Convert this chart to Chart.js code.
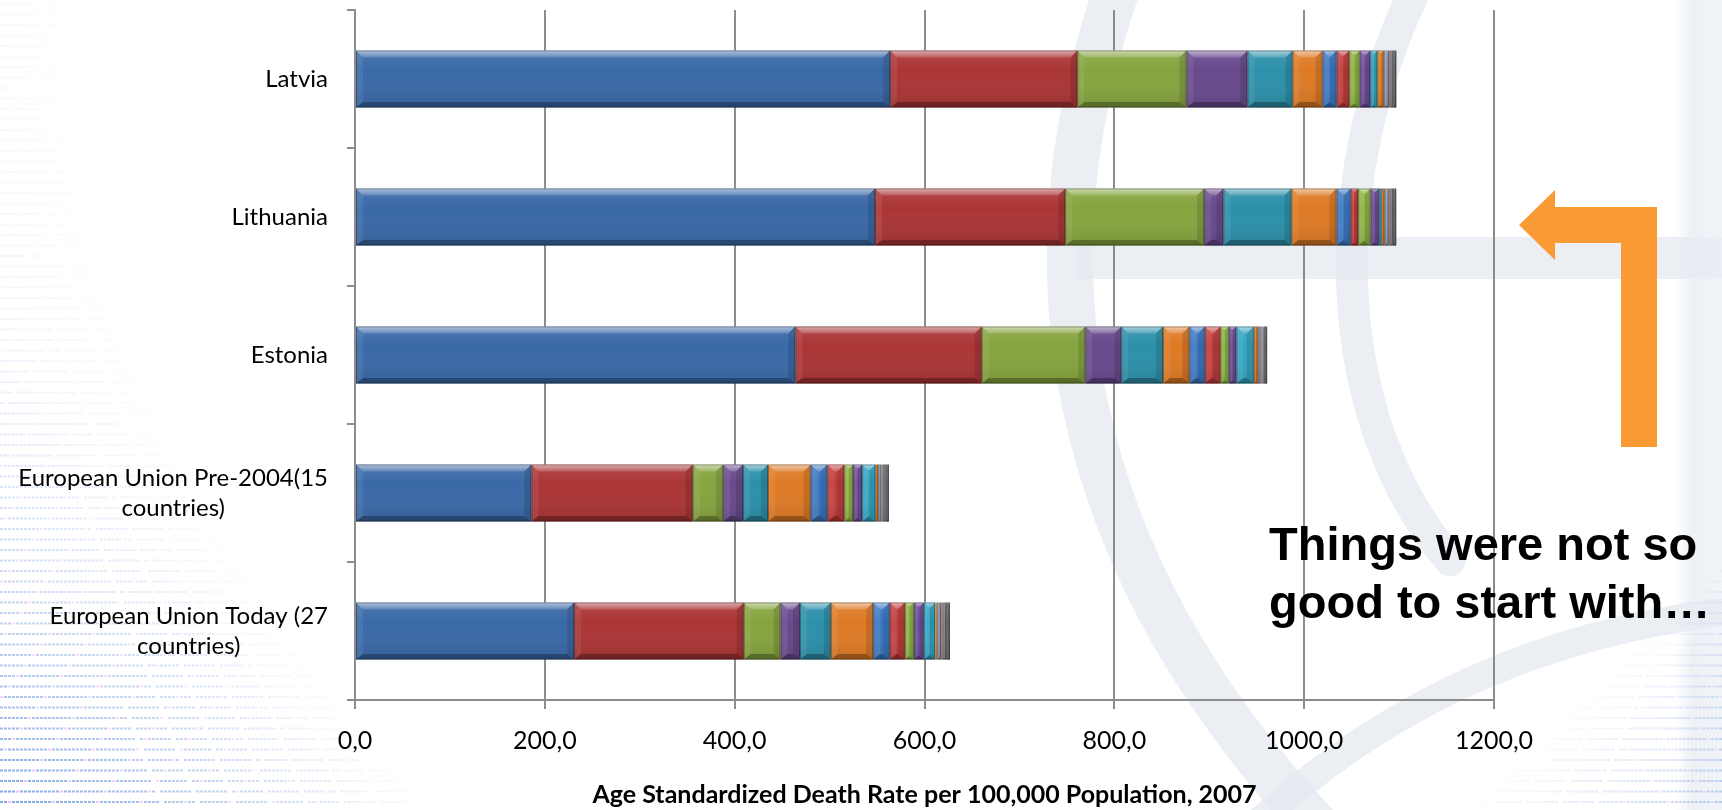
<!DOCTYPE html>
<html>
<head>
<meta charset="utf-8">
<title>Age Standardized Death Rate, 2007</title>
<script src="https://cdn.jsdelivr.net/npm/chart.js@4/dist/chart.umd.min.js"></script>
<style>
  html, body { margin: 0; padding: 0; background: #ffffff; }
  #wrap { width: 1722px; height: 810px; }
  canvas { display: block; }
</style>
</head>
<body>
<div id="wrap"><canvas id="chart" width="1722" height="810"></canvas></div>
<script>
// ---- data -------------------------------------------------------------
const categories = [
  ['Latvia'],
  ['Lithuania'],
  ['Estonia'],
  ['European Union Pre-2004(15', 'countries)'],
  ['European Union Today (27', 'countries)']
];
const xTickLabels = ['0,0', '200,0', '400,0', '600,0', '800,0', '1000,0', '1200,0'];
const axisTitle = 'Age Standardized Death Rate per 100,000 Population, 2007';
const noteLines = ['Things were not so', 'good to start with\u2026'];

// one array per cause of death, ordered Latvia, Lithuania, Estonia, EU-15, EU-27
const cause01 = [563.8, 547.8, 463.9, 185.8, 230.8];
const cause02 = [197.3, 200.5, 196.4, 170.0, 178.8];
const cause03 = [114.9, 146.3, 109.1, 32.1, 38.7];
const cause04 = [64.3, 20.3, 38.0, 20.9, 20.5];
const cause05 = [47.5, 71.7, 43.9, 26.3, 32.5];
const cause06 = [31.6, 47.5, 27.8, 45.0, 44.6];
const cause07 = [14.8, 14.8, 16.2, 17.5, 17.5];
const cause08 = [13.4, 8.0, 16.5, 17.9, 15.9];
const cause09 = [10.8, 13.0, 8.8, 9.2, 9.5];
const cause10 = [11.3, 8.8, 8.0, 9.6, 10.5];
const cause11 = [7.4, 2.8, 18.3, 14.1, 12.0];
const cause12 = [6.7, 3.2, 4.2, 2.9, 2.1];
const cause13 = [5.6, 4.5, 3.0, 3.2, 4.0];
const cause14 = [1.5, 1.5, 1.2, 1.4, 1.6];
const cause15 = [3.0, 3.0, 2.5, 3.0, 3.8];
const cause16 = [3.2, 3.3, 3.2, 3.6, 4.0];

const causeSeries = [cause01, cause02, cause03, cause04, cause05, cause06, cause07, cause08,
                     cause09, cause10, cause11, cause12, cause13, cause14, cause15, cause16];
const causeColors = ['#3A69A8', '#AB3535', '#86A43F', '#68498D', '#2C90AA', '#DE7A25',
                     '#3B78C3', '#C13B3B', '#8DB443', '#6C4C96', '#32A5C3', '#E57D20',
                     '#8C9FBE', '#A56E6A', '#8B8D90', '#656B71'];

// ---- slide backdrop ---------------------------------------------------
function drawDots(ctx, fromRight, extentFn, alphaFn) {
  for (let row = 0; row < 78; row++) {
    const y = 3 + row * 10.5;
    const ext = extentFn(y);
    if (ext <= 0) continue;
    for (let k = 0; k * 4 < ext; k++) {
      const d = k * 4;
      const a = alphaFn(y) * Math.max(0, 1 - d / ext);
      if (a <= 0.01) continue;
      const pink = ((k * 7 + row * 3) % 11) === 0;
      const skip = ((k * 5 + row * 13) % 9) === 0 && d > ext * 0.35;
      if (skip) continue;
      ctx.fillStyle = pink ? 'rgba(226,130,214,' + (a * 0.8) + ')' : 'rgba(70,125,214,' + a + ')';
      const x = fromRight ? 1722 - d - 3 : d;
      ctx.fillRect(x, y, 3, 2);
    }
  }
}

const backdrop = {
  id: 'backdrop',
  beforeDraw(chart) {
    const ctx = chart.ctx;
    ctx.save();
    ctx.fillStyle = '#ffffff';
    ctx.fillRect(0, 0, chart.width, chart.height);

    ctx.lineCap = 'round';
    ctx.strokeStyle = 'rgba(228,233,240,0.75)';
    // large outer swoosh
    ctx.lineWidth = 46;
    ctx.beginPath();
    ctx.moveTo(1120, -20);
    ctx.bezierCurveTo(1020, 260, 1060, 560, 1330, 840);
    ctx.stroke();
    // inner swoosh
    ctx.lineWidth = 32;
    ctx.beginPath();
    ctx.moveTo(1420, -20);
    ctx.bezierCurveTo(1320, 180, 1330, 420, 1450, 560);
    ctx.stroke();
    // lower sweeping band
    ctx.lineWidth = 28;
    ctx.beginPath();
    ctx.moveTo(1250, 830);
    ctx.quadraticCurveTo(1450, 640, 1740, 610);
    ctx.stroke();
    // horizontal band
    ctx.fillStyle = 'rgba(228,233,240,0.75)';
    ctx.fillRect(1075, 237, 660, 42);
    // right edge strip
    const g = ctx.createLinearGradient(1676, 0, 1722, 0);
    g.addColorStop(0, 'rgba(230,235,242,0)');
    g.addColorStop(0.35, 'rgba(230,235,242,0.7)');
    g.addColorStop(1, 'rgba(234,238,244,0.7)');
    ctx.fillStyle = g;
    ctx.fillRect(1676, 0, 46, 810);

    // printed dot texture at the left and lower-right edges
    drawDots(ctx, false,
      y => 100 + 340 * Math.pow(y / 810, 2.2),
      y => 0.05 + 0.65 * Math.pow(y / 810, 3));
    drawDots(ctx, true,
      y => y < 560 ? 0 : 270 * (y - 560) / 250,
      y => y < 560 ? 0 : 0.04 + 0.3 * (y - 560) / 250);
    ctx.restore();
  }
};

// ---- bevelled bar faces -----------------------------------------------
const bevel = {
  id: 'bevel',
  afterDatasetsDraw(chart) {
    const ctx = chart.ctx;
    ctx.save();
    chart.data.datasets.forEach((ds, di) => {
      const meta = chart.getDatasetMeta(di);
      meta.data.forEach(el => {
        const p = el.getProps(['x', 'y', 'base', 'height'], true);
        const l = Math.min(p.x, p.base), r = Math.max(p.x, p.base);
        const t = p.y - p.height / 2, b = p.y + p.height / 2;
        const w = r - l;
        if (w <= 0.5) return;
        const bv = Math.min(7, w / 2.2, p.height / 2);
        // soft face shading
        const fg = ctx.createLinearGradient(0, t, 0, b);
        fg.addColorStop(0, 'rgba(255,255,255,0.10)');
        fg.addColorStop(0.35, 'rgba(255,255,255,0.0)');
        fg.addColorStop(1, 'rgba(0,0,0,0.10)');
        ctx.fillStyle = fg;
        ctx.fillRect(l, t, w, b - t);
        // top bevel
        const tg = ctx.createLinearGradient(0, t, 0, t + bv);
        tg.addColorStop(0, 'rgba(255,255,255,0.55)');
        tg.addColorStop(1, 'rgba(255,255,255,0.15)');
        ctx.fillStyle = tg;
        ctx.beginPath();
        ctx.moveTo(l, t); ctx.lineTo(r, t); ctx.lineTo(r - bv, t + bv); ctx.lineTo(l + bv, t + bv);
        ctx.closePath(); ctx.fill();
        // bottom bevel
        ctx.fillStyle = 'rgba(0,0,0,0.28)';
        ctx.beginPath();
        ctx.moveTo(l, b); ctx.lineTo(r, b); ctx.lineTo(r - bv, b - bv * 0.8); ctx.lineTo(l + bv, b - bv * 0.8);
        ctx.closePath(); ctx.fill();
        // side bevels
        ctx.fillStyle = 'rgba(255,255,255,0.08)';
        ctx.beginPath();
        ctx.moveTo(l, t); ctx.lineTo(l + bv, t + bv); ctx.lineTo(l + bv, b - bv * 0.8); ctx.lineTo(l, b);
        ctx.closePath(); ctx.fill();
        ctx.fillStyle = 'rgba(0,0,0,0.12)';
        ctx.beginPath();
        ctx.moveTo(r, t); ctx.lineTo(r - bv, t + bv); ctx.lineTo(r - bv, b - bv * 0.8); ctx.lineTo(r, b);
        ctx.closePath(); ctx.fill();
        // outline
        if (w > 2.5) {
          ctx.strokeStyle = 'rgba(0,0,0,0.30)';
          ctx.lineWidth = 1;
          ctx.strokeRect(l + 0.5, t + 0.5, w - 1, b - t - 1);
        }
      });
    });
    ctx.restore();
  }
};

// ---- category labels, call-out text and arrow -------------------------
const overlay = {
  id: 'overlay',
  afterDraw(chart) {
    const ctx = chart.ctx;
    const ys = chart.scales.y;
    ctx.save();
    // category labels: block right-aligned, lines centred within the block
    ctx.font = '24px Lato';
    ctx.fillStyle = '#000000';
    ctx.textAlign = 'center';
    ctx.textBaseline = 'middle';
    chart.data.labels.forEach((lines, i) => {
      const yc = ys.getPixelForTick(i);
      const w = Math.max(...lines.map(s => ctx.measureText(s).width));
      const cx = ys.right - 27 - w / 2;
      lines.forEach((s, j) => ctx.fillText(s, cx, yc + (j - (lines.length - 1) / 2) * 30));
    });

    // bent arrow pointing back at the chart
    ctx.fillStyle = '#F99A35';
    ctx.beginPath();
    ctx.moveTo(1519, 225);
    ctx.lineTo(1555, 190);
    ctx.lineTo(1555, 207);
    ctx.lineTo(1657, 207);
    ctx.lineTo(1657, 447);
    ctx.lineTo(1621, 447);
    ctx.lineTo(1621, 243);
    ctx.lineTo(1555, 243);
    ctx.lineTo(1555, 260);
    ctx.closePath();
    ctx.fill();

    // call-out text
    ctx.font = 'bold 47px "Liberation Sans", Arial, sans-serif';
    ctx.textAlign = 'left';
    ctx.textBaseline = 'alphabetic';
    ctx.fillStyle = '#000000';
    ctx.fillText(noteLines[0], 1269, 560);
    ctx.fillText(noteLines[1], 1269, 618);
    ctx.restore();
  }
};

function build() {
  const datasets = causeSeries.map((vals, i) => ({
    label: 'Cause ' + (i + 1),
    data: vals,
    backgroundColor: causeColors[i],
    borderWidth: 0,
    categoryPercentage: 0.413,
    barPercentage: 1.0
  }));

  new Chart(document.getElementById('chart'), {
    type: 'bar',
    data: { labels: categories, datasets },
    options: {
      indexAxis: 'y',
      responsive: false,
      animation: false,
      events: [],
      layout: { padding: { top: 10, right: 228, bottom: 0, left: 0 } },
      plugins: { legend: { display: false }, tooltip: { enabled: false } },
      scales: {
        x: {
          stacked: true,
          min: 0,
          max: 1200,
          afterFit: s => { s.height = 110; },
          ticks: {
            stepSize: 200,
            color: '#000000',
            padding: 17,
            font: { family: 'Lato', size: 25 },
            callback: (v, i) => xTickLabels[i]
          },
          grid: { color: '#8C8C8C', lineWidth: 2, tickLength: 9, drawTicks: true },
          border: { color: '#8C8C8C', width: 2 },
          title: {
            display: true,
            text: axisTitle,
            color: '#000000',
            font: { family: 'Lato', size: 25, weight: 'bold' },
            padding: { top: 0, bottom: 0 }
          }
        },
        y: {
          stacked: true,
          afterFit: s => { s.width = 355; },
          ticks: { display: false },
          grid: { drawOnChartArea: false, drawTicks: true, tickLength: 8, color: '#8C8C8C', lineWidth: 2, offset: true },
          border: { color: '#8C8C8C', width: 2 }
        }
      }
    },
    plugins: [backdrop, bevel, overlay]
  });
}

const fontsReady = (document.fonts && document.fonts.load)
  ? Promise.all([
      document.fonts.load('24px Lato'),
      document.fonts.load('bold 25px Lato'),
      document.fonts.load('bold 47px "Liberation Sans"')
    ]).catch(() => null)
  : Promise.resolve();
fontsReady.then(build, build);
</script>
</body>
</html>
